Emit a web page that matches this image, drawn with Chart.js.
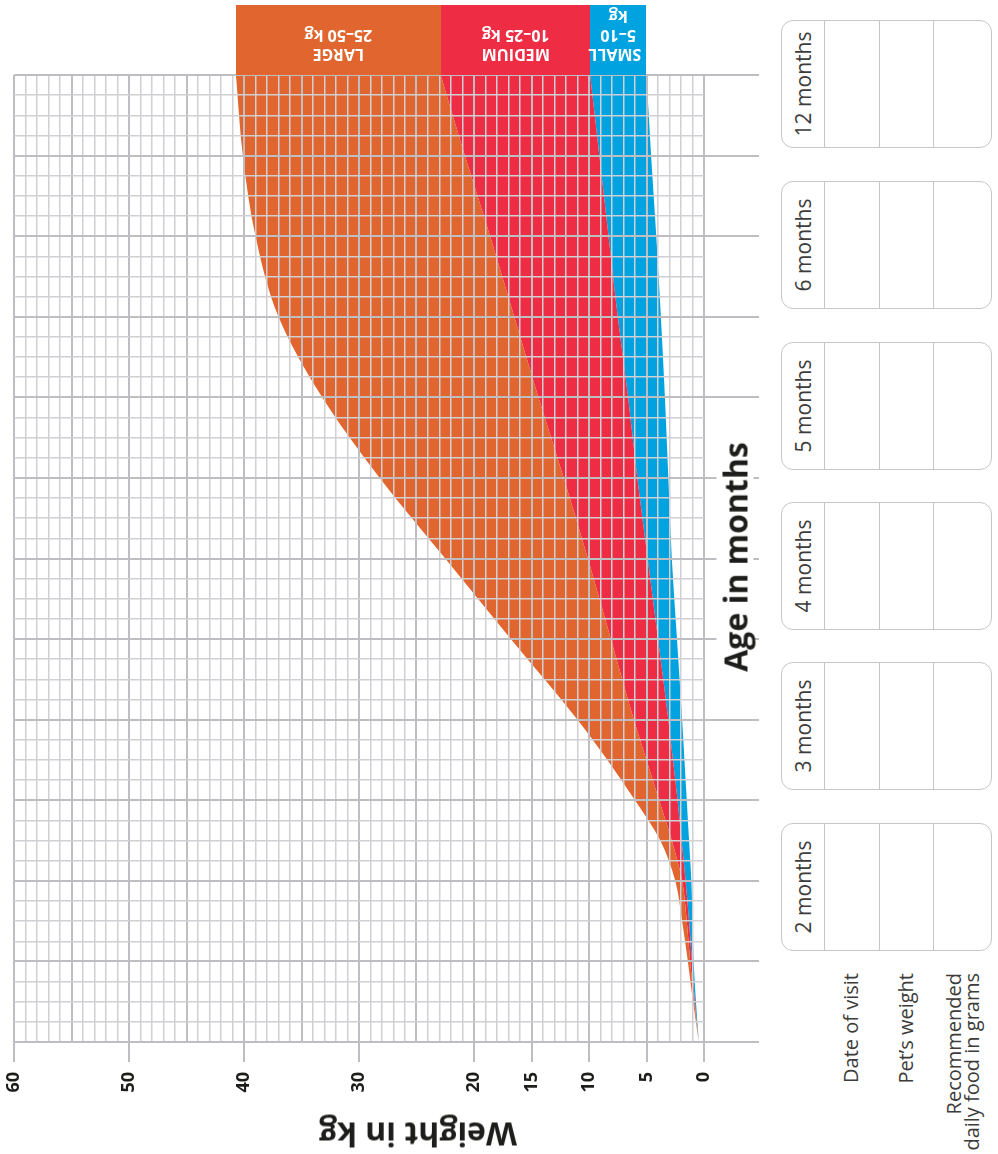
<!DOCTYPE html>
<html>
<head>
<meta charset="utf-8">
<script src="https://cdn.jsdelivr.net/npm/chart.js@4.4.1/dist/chart.umd.min.js"></script>
<style>
    body { margin: 0; background: #fff; font-family: 'Open Sans', sans-serif; }
    #page { position: relative; width: 998px; height: 1154px; overflow: hidden; }
    #chartBox { position: absolute; left: 0; top: 0; width: 770px; height: 1154px; }
    .band { position: absolute; top: 5px; color: #fff; font-weight: 700; font-size: 16px; line-height: 19px;
        text-align: center; box-sizing: border-box; }
    .band .txt { position: absolute; left: 0; right: 0; bottom: 11px; transform: rotate(180deg); padding: 0 5px; }
    .rotLabel { position: absolute; white-space: nowrap; transform: translate(-50%, -50%) rotate(-90deg); }
    #ageTitle { left: 735px; top: 557px; font-size: 32px; font-weight: 700; color: #1d1d1b; background: #fff;
        line-height: 37px; padding: 0 6px; }
    #weightTitle { position: absolute; left: 418px; top: 1135px; transform: translate(-50%, -50%) rotate(180deg);
        font-size: 32px; font-weight: 700; color: #1d1d1b; white-space: nowrap; }
    .rec { position: absolute; left: 781px; width: 211px; height: 128px; border: 1.5px solid #c6c6c6;
        border-radius: 12px; box-sizing: border-box; }
    .rec .col { position: absolute; top: 0; bottom: 0; border-left: 1.5px solid #c6c6c6; }
    .rec .rotLabel { left: 21px; top: 63px; font-size: 21px; color: #3c3c3b; }
    .rowLabel { position: absolute; width: 220px; text-align: right; font-size: 20px; line-height: 18px;
        color: #3c3c3b; transform-origin: right center; transform: rotate(-90deg); white-space: nowrap; }
</style>
</head>
<body>
<div id="page">
    <div id="chartBox"><canvas id="growthChart"></canvas></div>
    <div id="ageTitle" class="rotLabel">Age in months</div>
    <div id="weightTitle">Weight in kg</div>
</div>
<script>
// ages along the vertical axis (months)
const ages = [0, 0.5, 1, 1.5, 2, 2.5, 3, 3.5, 4, 5, 6, 7, 8, 9, 10, 11, 12];
// band edges in kg, one value per age
const largeMax = [0.45, 0.95, 1.4, 1.9, 2.5, 3.8, 6.0, 8.4, 11.0, 16.8, 22.5, 28.2, 33.2, 37.0, 39.0, 40.1, 40.7];
const mediumMax = [0.45, 0.85, 1.2, 1.5, 1.9, 2.8, 3.9, 5.0, 6.1, 8.1, 10.1, 12.2, 14.4, 16.5, 18.6, 20.8, 22.9];
const smallMax = [0.45, 0.8, 1.05, 1.3, 1.6, 1.95, 2.3, 2.7, 3.1, 4.0, 4.9, 5.8, 6.6, 7.5, 8.3, 9.1, 9.9];
const smallMin = [0.45, 0.7, 0.9, 1.0, 1.1, 1.3, 1.5, 1.7, 1.9, 2.35, 2.8, 3.1, 3.4, 3.75, 4.15, 4.6, 5.0];

const weightTicks = [0, 5, 10, 15, 20, 30, 40, 50, 60];
const bandNames = ['LARGE', 'MEDIUM', 'SMALL'];
const bandRanges = ['25–50 kg', '10–25 kg', '5–10 kg'];
const bandColors = ['#e0652e', '#ee2d45', '#00a3df'];
const visitLabels = ['12 months', '6 months', '5 months', '4 months', '3 months', '2 months'];
const visitTops = [20, 181, 342, 502, 662, 823];
const rowLabels = ['Date of visit', 'Pet’s weight', 'Recommended<br>daily food in grams'];

const MAJOR = '#bdbdc2';
const MINOR = '#d0d0d4';

function toPoints(weights) {
    return ages.map((a, i) => ({ x: weights[i], y: a }));
}

const lineStyle = { borderWidth: 0, borderColor: 'rgba(0,0,0,0)', pointRadius: 0, cubicInterpolationMode: 'monotone' };

const chart = new Chart(document.getElementById('growthChart'), {
    type: 'line',
    data: {
        datasets: [
            Object.assign({ label: 'Large', data: toPoints(largeMax), backgroundColor: bandColors[0], fill: '+1' }, lineStyle),
            Object.assign({ label: 'Medium', data: toPoints(mediumMax), backgroundColor: bandColors[1], fill: '+1' }, lineStyle),
            Object.assign({ label: 'Small', data: toPoints(smallMax), backgroundColor: bandColors[2], fill: '+1' }, lineStyle),
            Object.assign({ label: 'Small min', data: toPoints(smallMin), fill: false }, lineStyle)
        ]
    },
    options: {
        indexAxis: 'y',
        responsive: true,
        maintainAspectRatio: false,
        animation: false,
        layout: { padding: { top: 75, left: 14, right: 0, bottom: 0 } },
        plugins: { legend: { display: false }, tooltip: { enabled: false } },
        scales: {
            x: {
                type: 'linear', position: 'bottom', reverse: true, min: 0, max: 60,
                border: { display: false },
                grid: {
                    z: 1,
                    color: c => c.tick.value % 5 === 0 ? MAJOR : MINOR,
                    lineWidth: c => c.tick.value % 5 === 0 ? 2 : 1.5,
                    tickLength: 20,
                    tickWidth: 2,
                    tickColor: c => weightTicks.includes(c.tick.value) ? MAJOR : 'rgba(0,0,0,0)'
                },
                ticks: {
                    stepSize: 1, autoSkip: false, minRotation: 90, maxRotation: 90, padding: 10,
                    color: '#1d1d1b',
                    font: { family: 'Open Sans', size: 18, weight: 'bold' },
                    callback: v => weightTicks.includes(v) ? String(v) : ''
                },
                afterFit: s => { s.height = 112; }
            },
            y: {
                type: 'linear', position: 'right', min: 0, max: 12,
                border: { display: false },
                grid: {
                    z: 1,
                    color: c => Number.isInteger(c.tick.value) ? MAJOR : MINOR,
                    lineWidth: c => Number.isInteger(c.tick.value) ? 2 : 1.5,
                    tickLength: 55,
                    tickWidth: 2,
                    tickColor: c => Number.isInteger(c.tick.value) ? MAJOR : 'rgba(0,0,0,0)'
                },
                ticks: { stepSize: 0.25, display: false },
                afterFit: s => { s.width = 66; }
            }
        }
    }
});

// size band headers above the plot from the 12-month edges
const page = document.getElementById('page');
const xs = chart.scales.x;
const edges = [largeMax, mediumMax, smallMax, smallMin].map(arr => xs.getPixelForValue(arr[arr.length - 1]));
bandNames.forEach((name, i) => {
    const div = document.createElement('div');
    div.className = 'band';
    div.style.left = edges[i] + 'px';
    div.style.width = (edges[i + 1] - edges[i]) + 'px';
    div.style.height = (chart.chartArea.top - 5) + 'px';
    div.style.background = bandColors[i];
    div.innerHTML = '<div class="txt">' + name + '<br>' + bandRanges[i] + '</div>';
    page.appendChild(div);
});

// record boxes on the right
const cols = [42, 97, 151];
visitLabels.forEach((label, i) => {
    const box = document.createElement('div');
    box.className = 'rec';
    box.style.top = visitTops[i] + 'px';
    let html = '<div class="rotLabel">' + label + '</div>';
    cols.forEach(c => { html += '<div class="col" style="left:' + c + 'px"></div>'; });
    box.innerHTML = html;
    page.appendChild(box);
});

const rowCenters = [851, 906, 963];
rowLabels.forEach((label, i) => {
    const div = document.createElement('div');
    div.className = 'rowLabel';
    div.innerHTML = label;
    page.appendChild(div);
    const h = div.offsetHeight;
    div.style.left = (rowCenters[i] - 220) + 'px';
    div.style.top = (973 - h / 2) + 'px';
});
</script>
</body>
</html>
